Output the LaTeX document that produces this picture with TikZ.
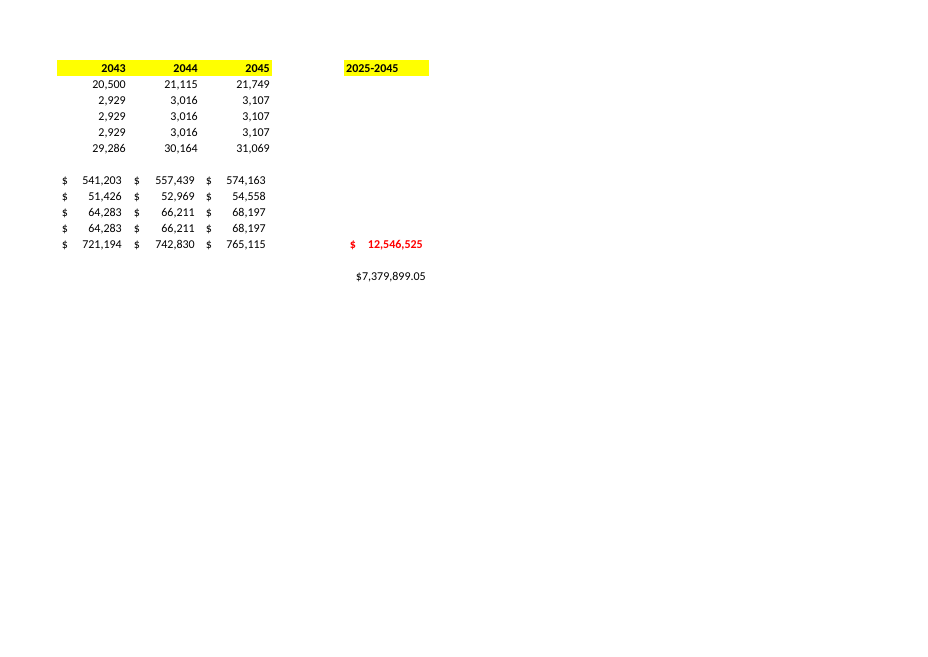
\documentclass[tikz,border=0pt]{standalone}
\usepackage{fontspec}
\setmainfont{Carlito}
\usetikzlibrary{positioning}

\definecolor{bandyellow}{RGB}{255,255,0}
\definecolor{totalred}{RGB}{255,0,0}

\tikzset{
  num/.style={anchor=base east, inner sep=0pt, font=\fontsize{12}{14}\selectfont},
  sign/.style={anchor=base, inner sep=0pt, font=\fontsize{12}{14}\selectfont},
  yearhead/.style={num, font=\fontsize{12}{14}\selectfont\bfseries},
  band/.style={fill=bandyellow, inner sep=0pt, minimum height=16pt},
  total/.style={num, text=totalred, font=\fontsize{12}{14}\selectfont\bfseries},
}

\begin{document}
\begin{tikzpicture}[x=1pt,y=-1pt]
  \useasboundingbox (0,0) rectangle (928,656);
  % header bands
  \node[band, minimum width=215pt] (yband) at (164.5,68) {};
  \node[band, minimum width=85pt] (sband) at (386.5,68) {};
  \node[yearhead] (y43) at (126,72) {2043};
  \node[yearhead] (y44) at (198,72) {2044};
  \node[yearhead] (y45) at (270,72) {2045};
  \node[yearhead, anchor=base west] (span) at (346,72) {2025-2045};
  % counts
  \foreach \yy/\a/\b/\c [count=\i] in {88/{20,500}/{21,115}/{21,749},
      104/{2,929}/{3,016}/{3,107}, 120/{2,929}/{3,016}/{3,107},
      136/{2,929}/{3,016}/{3,107}, 152/{29,286}/{30,164}/{31,069}} {
    \node[num] (c\i a) at (126,\yy) {\a};
    \node[num] (c\i b) at (198,\yy) {\b};
    \node[num] (c\i c) at (270,\yy) {\c};
  }
  % costs
  \foreach \yy/\a/\b/\c [count=\i] in {184/{541,203}/{557,439}/{574,163},
      200/{51,426}/{52,969}/{54,558}, 216/{64,283}/{66,211}/{68,197},
      232/{64,283}/{66,211}/{68,197}, 248/{721,194}/{742,830}/{765,115}} {
    \node[sign] (d\i a) at (65,\yy) {\$};
    \node[num] (v\i a) at (122,\yy) {\a};
    \node[sign] (d\i b) at (137,\yy) {\$};
    \node[num] (v\i b) at (195,\yy) {\b};
    \node[sign] (d\i c) at (209,\yy) {\$};
    \node[num] (v\i c) at (266,\yy) {\c};
  }
  % totals
  \node[total, anchor=base] (tsign) at (353,248) {\$};
  \node[total] (tsum) at (423,248) {12,546,525};
  \node[num] (npv) at (426,280) {\$7,379,899.05};
\end{tikzpicture}
\end{document}
